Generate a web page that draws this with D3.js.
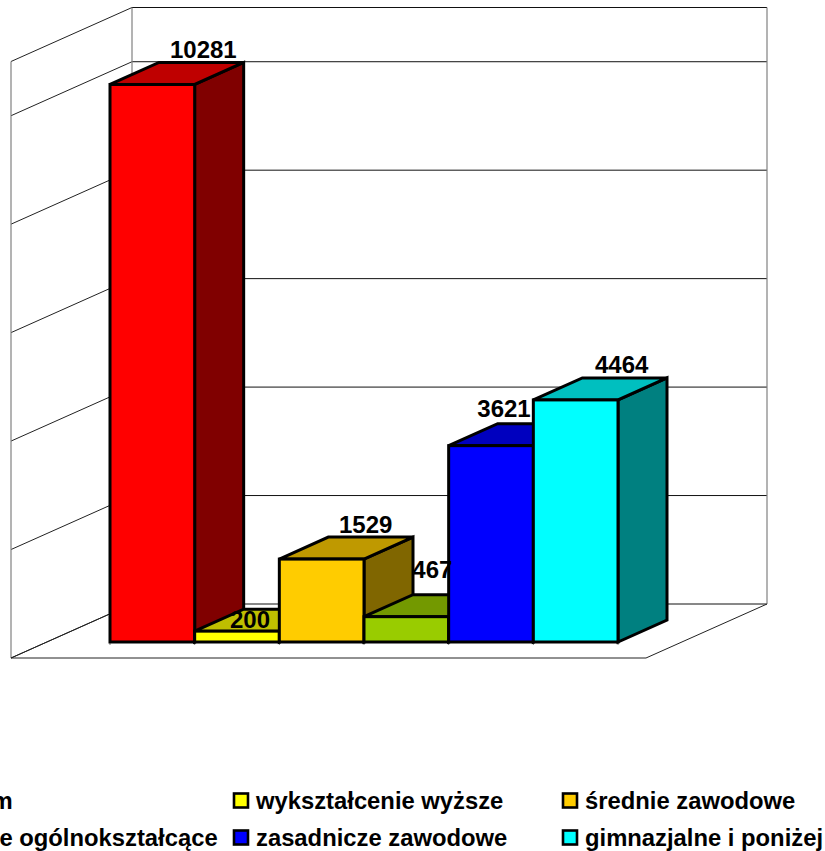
<!DOCTYPE html>
<html lang="pl">
<head>
<meta charset="UTF-8" />
<title>Wykształcenie</title>
<script src="https://d3js.org/d3.v7.min.js"></script>
<style>
  html, body { margin: 0; padding: 0; background: #fff; overflow: hidden; }
  svg { display: block; }
  text { font-family: "Liberation Sans", Arial, sans-serif; font-weight: bold; fill: #000; }
</style>
</head>
<body>
<script>
// data
const categories = ["ogółem", "wykształcenie wyższe", "średnie zawodowe", "średnie ogólnokształcące", "zasadnicze zawodowe", "gimnazjalne i poniżej"];
const values = [10281, 200, 1529, 467, 3621, 4464];
const gridValues = [0, 2000, 4000, 6000, 8000, 10000, 11000];
const colors = ["#ff0000", "#ffff00", "#ffcc00", "#99cc00", "#0000ff", "#00ffff"];

const width = 825, height = 851;
const svg = d3.select("body").append("svg").attr("width", width).attr("height", height);

// plot geometry
const baseY = 642, depthX = 49, depthY = -22;
const wallDX = 121, wallDY = -54;
const wallLeft = 132, wallRight = 767, wallBottom = 604;

const x = d3.scaleBand().domain(categories).range([110, 618]);
const y = d3.scaleLinear().domain([0, 11000]).range([0, 596.5]);

const wall = svg.append("g").attr("fill", "none");

// back wall grid lines and the left wall
gridValues.forEach(v => {
  const yBack = wallBottom - y(v);
  wall.append("line").attr("x1", wallLeft).attr("x2", wallRight).attr("y1", yBack).attr("y2", yBack)
    .attr("stroke", "#111").attr("stroke-width", 1);
  wall.append("line").attr("x1", wallLeft - wallDX).attr("x2", wallLeft)
    .attr("y1", yBack - wallDY).attr("y2", yBack)
    .attr("stroke", "#222").attr("stroke-width", 1);
});
[[wallLeft - wallDX, wallBottom - wallDY], [wallLeft, wallBottom], [wallRight, wallBottom]].forEach(p => {
  wall.append("line").attr("x1", p[0]).attr("x2", p[0]).attr("y1", p[1]).attr("y2", p[1] - y(11000))
    .attr("stroke", "#808080").attr("stroke-width", 1.2);
});

// floor
wall.append("path")
  .attr("d", `M${wallLeft - wallDX},${wallBottom - wallDY}L${wallLeft},${wallBottom}M${wallLeft - wallDX},${wallBottom - wallDY}L${wallRight - wallDX},${wallBottom - wallDY}L${wallRight},${wallBottom}`)
  .attr("stroke", "#222").attr("stroke-width", 1);

// small ticks under the bars
categories.concat([null]).forEach(c => {
  const tx = c ? x(c) : x.range()[1];
  wall.append("line").attr("x1", tx).attr("x2", tx).attr("y1", baseY).attr("y2", baseY + 3)
    .attr("stroke", "#808080");
});

// bars
const bars = svg.append("g").selectAll("g").data(categories).enter().append("g")
  .attr("stroke", "#000").attr("stroke-width", 3).attr("stroke-linejoin", "miter");

const shade = (col, k) => {
  const c = d3.rgb(col);
  return d3.rgb(c.r * k, c.g * k, c.b * k).formatHex();
};

bars.append("path") // side
  .attr("fill", (d, i) => shade(colors[i], 0.5))
  .attr("d", (d, i) => {
    const r = x(d) + x.bandwidth(), t = baseY - y(values[i]);
    return `M${r},${t}L${r + depthX},${t + depthY}L${r + depthX},${baseY + depthY}L${r},${baseY}Z`;
  });
bars.append("path") // top
  .attr("fill", (d, i) => shade(colors[i], 0.75))
  .attr("d", (d, i) => {
    const l = x(d), r = l + x.bandwidth(), t = baseY - y(values[i]);
    return `M${l},${t}L${l + depthX},${t + depthY}L${r + depthX},${t + depthY}L${r},${t}Z`;
  });
bars.append("rect") // front
  .attr("fill", (d, i) => colors[i])
  .attr("x", d => x(d))
  .attr("y", (d, i) => baseY - y(values[i]))
  .attr("width", x.bandwidth())
  .attr("height", (d, i) => y(values[i]));

// value labels, nudged by hand like in the original
const labelDX = [51, 13, 44, 26, 13, 46];
const labelDY = [-4, 19, -4, -17, -7, -5];
svg.append("g").selectAll("text").data(categories).enter().append("text")
  .attr("text-anchor", "middle")
  .attr("font-size", 24)
  .attr("x", (d, i) => x(d) + x.bandwidth() / 2 + labelDX[i])
  .attr("y", (d, i) => baseY - y(values[i]) + depthY + labelDY[i])
  .text((d, i) => values[i]);

// legend, the first column runs off the left edge
const legendX = [-94, 234, 563];
const legendY = [800.5, 837.5];
const legend = svg.append("g").selectAll("g").data(categories).enter().append("g")
  .attr("transform", (d, i) => `translate(${legendX[i % 3]},${legendY[Math.floor(i / 3)]})`);
legend.append("rect")
  .attr("x", 0).attr("y", -7).attr("width", 14).attr("height", 14)
  .attr("fill", (d, i) => colors[i])
  .attr("stroke", "#000").attr("stroke-width", 2.6);
legend.append("text")
  .attr("x", 22).attr("y", 8.5)
  .attr("font-size", 23.8)
  .text(d => d);
</script>
</body>
</html>
